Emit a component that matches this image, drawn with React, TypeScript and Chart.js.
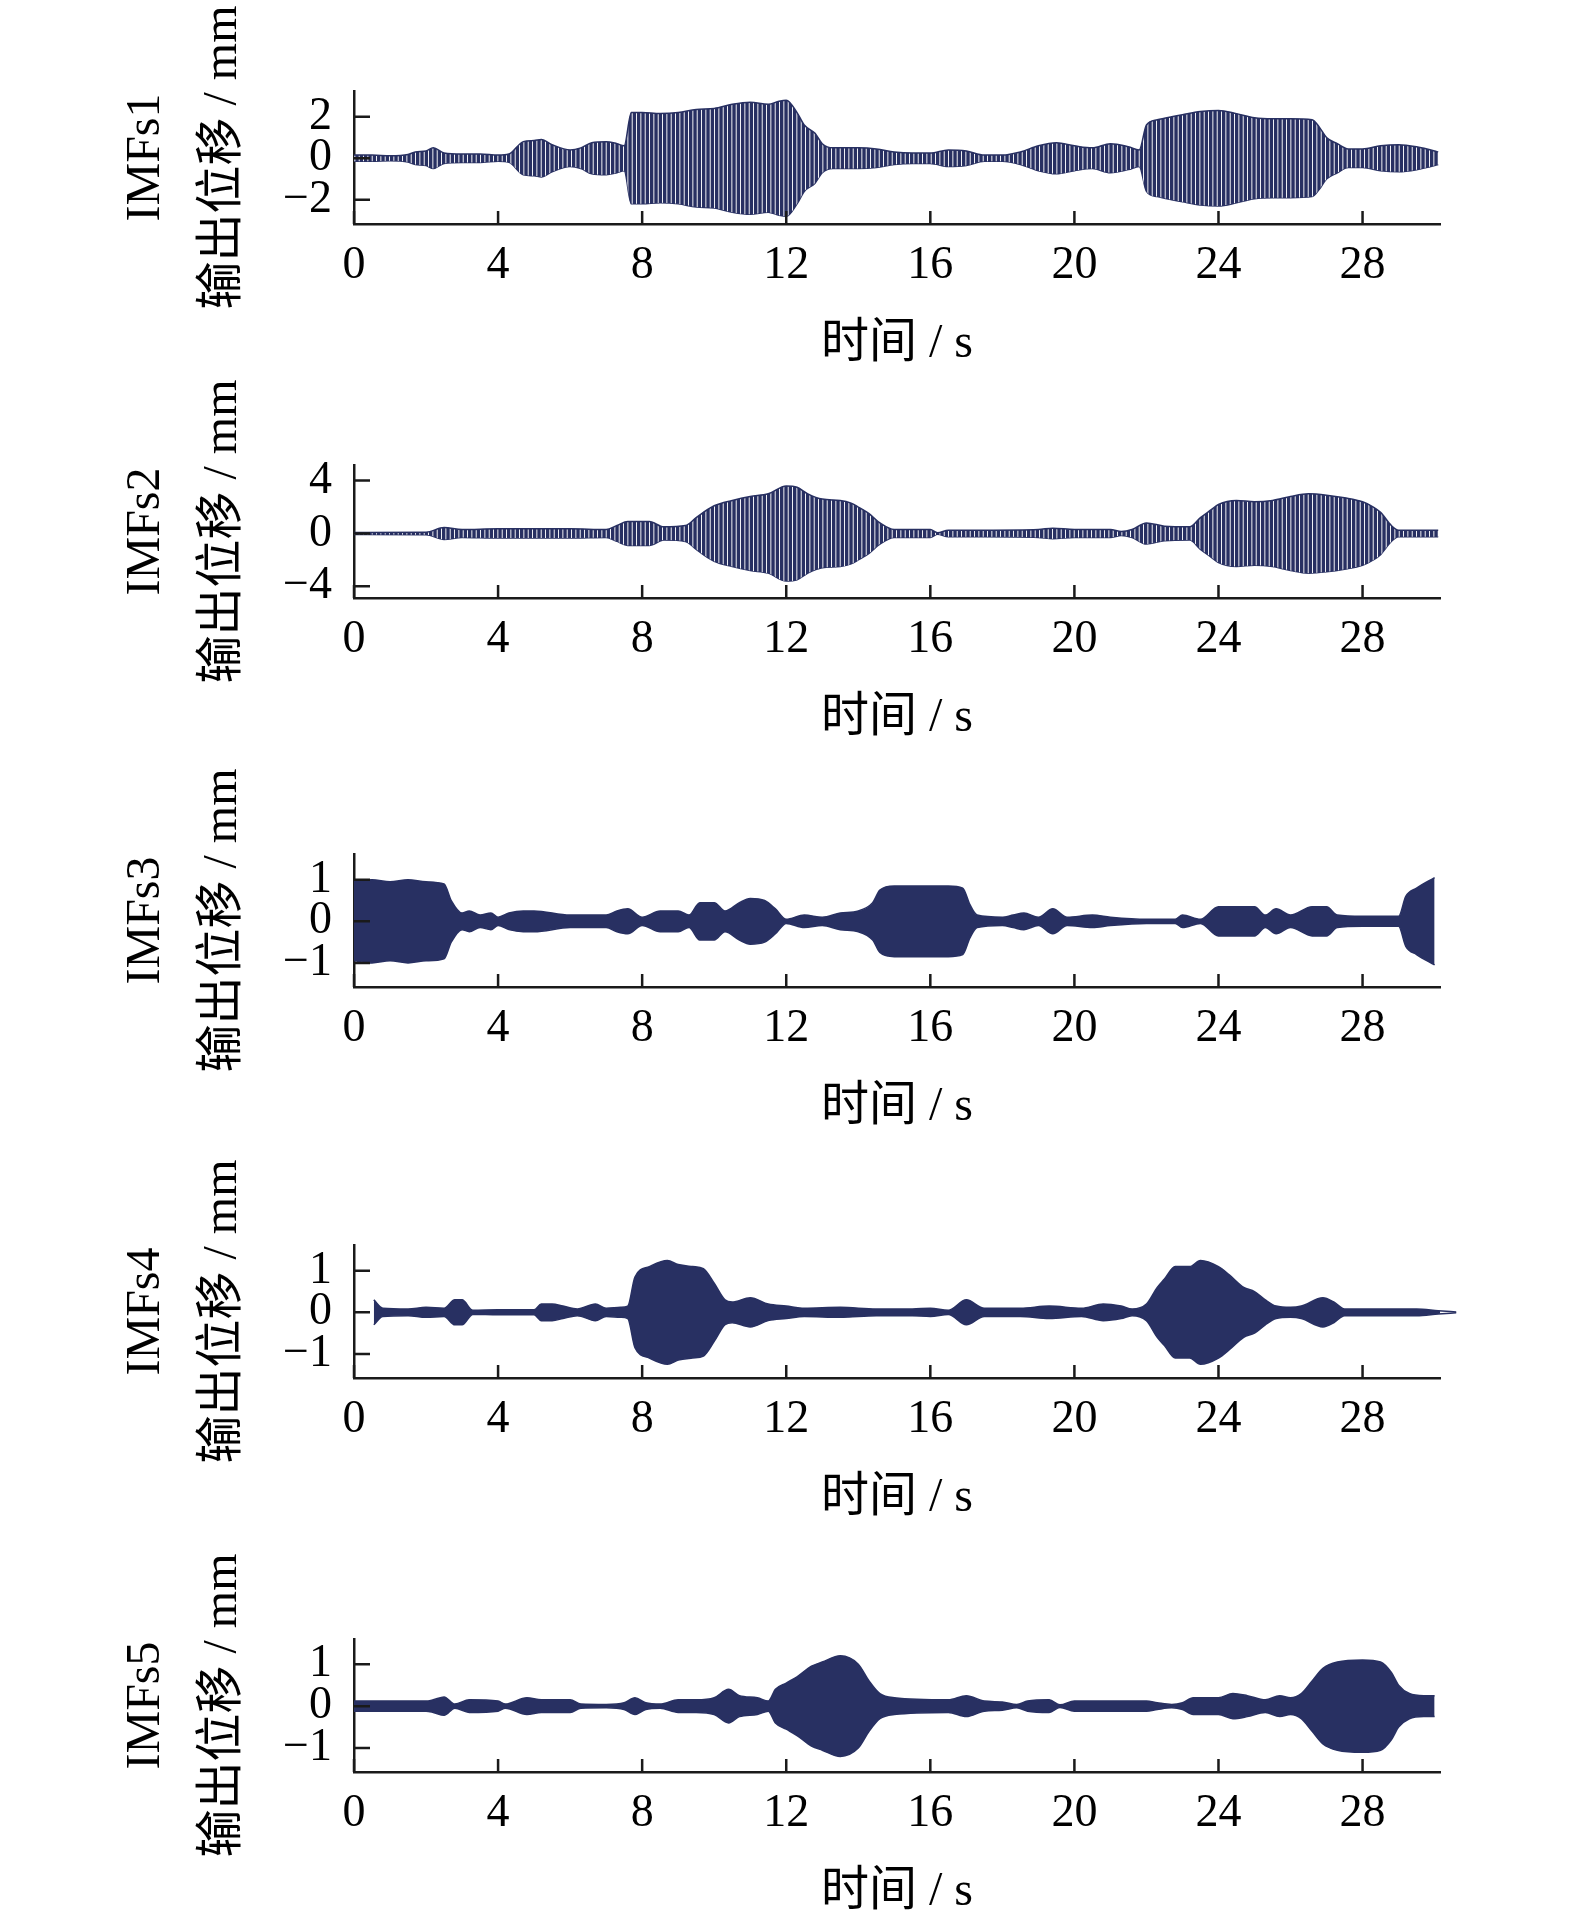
import React, { useEffect, useRef } from "react";
import { Chart, registerables } from "chart.js";

Chart.register(...registerables);

// time axis ticks (s)
const X_TICKS = [0, 4, 8, 12, 16, 20, 24, 28];

// envelope of each IMF: time (s) and half-amplitude (mm)
const imf1Time = [0, 0.5, 1.0, 1.5, 1.7, 2.0, 2.2, 2.5, 3.0, 3.5, 4.0, 4.3, 4.7, 5.0, 5.2, 5.5, 6.0, 6.3, 6.6, 7.0, 7.3, 7.5, 7.7, 8.0, 8.5, 9.0, 9.5, 10.0, 10.5, 11.0, 11.5, 11.8, 12.0, 12.3, 12.5, 12.8, 13.0, 13.3, 14.0, 14.5, 15.0, 15.5, 16.0, 16.5, 17.0, 17.5, 18.0, 18.5, 19.0, 19.5, 20.0, 20.5, 21.0, 21.5, 21.8, 22.0, 22.3, 22.7, 23.0, 23.5, 24.0, 24.5, 25.0, 25.5, 26.0, 26.6, 26.8, 27.0, 27.3, 27.6, 28.0, 28.5, 29.0, 29.5, 30.0, 30.1];
const imf1Amp = [0.15, 0.15, 0.12, 0.18, 0.3, 0.35, 0.5, 0.25, 0.2, 0.2, 0.15, 0.2, 0.8, 0.85, 0.9, 0.65, 0.4, 0.5, 0.75, 0.8, 0.7, 0.6, 2.2, 2.2, 2.15, 2.2, 2.35, 2.4, 2.6, 2.7, 2.6, 2.75, 2.8, 2.2, 1.6, 1.2, 0.7, 0.5, 0.5, 0.45, 0.3, 0.25, 0.25, 0.4, 0.35, 0.15, 0.15, 0.3, 0.6, 0.75, 0.6, 0.5, 0.7, 0.55, 0.4, 1.6, 1.85, 2.0, 2.1, 2.25, 2.3, 2.15, 1.95, 1.9, 1.9, 1.85, 1.5, 1.0, 0.7, 0.45, 0.45, 0.6, 0.65, 0.55, 0.35, 0.3];

const imf2Time = [0, 2.0, 2.5, 3.0, 4.0, 5.0, 6.0, 7.0, 7.3, 7.6, 8.2, 8.6, 9.2, 9.5, 9.7, 10.0, 10.5, 11.0, 11.5, 12.0, 12.3, 12.6, 13.0, 13.5, 13.8, 14.0, 14.3, 14.6, 15.0, 16.0, 16.2, 16.5, 17.5, 19.0, 19.4, 20.0, 21.0, 21.3, 21.6, 22.0, 22.5, 23.2, 23.5, 23.8, 24.0, 24.5, 25.0, 25.5, 26.0, 26.5, 27.0, 27.5, 28.0, 28.3, 28.5, 28.8, 29.0, 30.1];
const imf2Amp = [0.08, 0.1, 0.45, 0.3, 0.35, 0.35, 0.35, 0.3, 0.6, 0.9, 0.9, 0.5, 0.6, 1.2, 1.6, 2.1, 2.5, 2.8, 3.0, 3.6, 3.5, 3.0, 2.6, 2.5, 2.3, 2.0, 1.5, 0.8, 0.3, 0.3, 0.06, 0.25, 0.25, 0.3, 0.4, 0.3, 0.3, 0.15, 0.3, 0.8, 0.55, 0.5, 1.2, 1.8, 2.2, 2.5, 2.4, 2.5, 2.8, 3.0, 2.9, 2.7, 2.4, 2.0, 1.6, 0.6, 0.25, 0.25];

const imf3Time = [0, 0.5, 1.0, 1.5, 2.0, 2.5, 2.7, 3.0, 3.2, 3.5, 3.8, 4.0, 4.3, 4.7, 5.0, 6.0, 7.0, 7.3, 7.6, 8.0, 8.5, 9.0, 9.3, 9.6, 10.0, 10.3, 10.7, 11.0, 11.4, 11.7, 12.0, 12.5, 13.0, 13.5, 14.0, 14.4, 14.6, 15.0, 16.0, 16.5, 16.9, 17.1, 17.3, 18.0, 18.3, 18.6, 19.0, 19.4, 19.8, 20.5, 21.0, 22.0, 22.8, 23.0, 23.5, 24.0, 25.0, 25.3, 25.6, 26.0, 26.6, 27.0, 27.3, 28.0, 29.0, 29.2, 29.5, 30.0];
const imf3Amp = [0.95, 1.0, 0.95, 1.0, 0.95, 0.9, 0.5, 0.2, 0.25, 0.15, 0.2, 0.1, 0.2, 0.25, 0.25, 0.15, 0.15, 0.25, 0.3, 0.1, 0.25, 0.25, 0.15, 0.45, 0.45, 0.25, 0.45, 0.55, 0.5, 0.3, 0.05, 0.15, 0.1, 0.2, 0.25, 0.45, 0.75, 0.85, 0.85, 0.85, 0.8, 0.4, 0.15, 0.1, 0.15, 0.2, 0.1, 0.3, 0.1, 0.15, 0.1, 0.05, 0.05, 0.15, 0.05, 0.35, 0.35, 0.15, 0.3, 0.15, 0.35, 0.35, 0.15, 0.12, 0.12, 0.6, 0.8, 1.05];

const imf4Time = [0.55, 0.8, 1.5, 2.0, 2.5, 2.8, 3.0, 3.3, 4.0, 5.0, 5.2, 5.5, 5.8, 6.2, 6.7, 7.0, 7.4, 7.6, 7.8, 8.2, 8.7, 9.0, 9.4, 9.7, 10.0, 10.3, 10.5, 11.0, 11.5, 12.0, 12.5, 13.5, 14.5, 15.5, 16.0, 16.5, 17.0, 17.5, 18.5, 19.3, 20.2, 20.8, 21.3, 21.6, 22.0, 22.3, 22.5, 22.8, 23.2, 23.5, 24.0, 24.3, 24.7, 25.0, 25.3, 25.6, 26.0, 26.3, 26.9, 27.2, 27.5, 28.5, 29.5, 30.1, 30.6];
const imf4Amp = [0.3, 0.1, 0.08, 0.12, 0.1, 0.3, 0.3, 0.05, 0.06, 0.06, 0.2, 0.2, 0.15, 0.08, 0.2, 0.1, 0.12, 0.15, 0.85, 1.1, 1.25, 1.15, 1.1, 1.05, 0.7, 0.3, 0.25, 0.35, 0.2, 0.15, 0.1, 0.12, 0.08, 0.08, 0.1, 0.05, 0.3, 0.1, 0.1, 0.15, 0.1, 0.2, 0.15, 0.08, 0.2, 0.6, 0.8, 1.1, 1.1, 1.25, 1.1, 0.9, 0.6, 0.5, 0.3, 0.15, 0.12, 0.15, 0.35, 0.25, 0.08, 0.08, 0.08, 0.04, 0.01];

const imf5Time = [0, 2.0, 2.2, 2.5, 2.8, 3.2, 4.0, 4.2, 4.8, 5.2, 6.0, 6.3, 7.0, 7.5, 7.8, 8.1, 8.5, 9.0, 9.5, 10.0, 10.4, 10.7, 11.2, 11.5, 11.7, 12.0, 12.3, 12.7, 13.0, 13.5, 14.0, 14.3, 14.6, 15.0, 16.5, 17.0, 17.5, 18.0, 18.4, 18.7, 19.3, 19.6, 20.0, 22.0, 22.3, 22.7, 23.0, 23.3, 24.0, 24.4, 24.8, 25.3, 25.7, 26.0, 26.3, 26.6, 26.9, 27.3, 28.0, 28.5, 28.8, 29.0, 29.3, 29.7, 30.0];
const imf5Amp = [0.12, 0.12, 0.15, 0.22, 0.05, 0.15, 0.12, 0.05, 0.2, 0.15, 0.15, 0.05, 0.04, 0.08, 0.2, 0.08, 0.05, 0.15, 0.15, 0.2, 0.4, 0.25, 0.2, 0.12, 0.4, 0.55, 0.7, 0.95, 1.05, 1.2, 1.0, 0.6, 0.3, 0.2, 0.15, 0.25, 0.12, 0.1, 0.04, 0.12, 0.15, 0.03, 0.12, 0.12, 0.08, 0.04, 0.08, 0.2, 0.2, 0.3, 0.25, 0.15, 0.25, 0.2, 0.3, 0.6, 0.9, 1.05, 1.1, 1.05, 0.8, 0.5, 0.3, 0.25, 0.25];

// y tick labels
const imf1Ticks = [-2, 0, 2];
const imf2Ticks = [-4, 0, 4];
const imfSmallTicks = [-1, 0, 1];

const NAVY = "#283062";
const AXIS = "#1a1a1a";
const FONT = '"Liberation Serif", "Times New Roman", "Noto Sans CJK SC", serif';

const CANVAS_W = 1575;
const CANVAS_H = 420;
const PAD_TOP = 91;
const AREA_H = 133;

const panels = [
  { name: "IMFs1", time: imf1Time, amp: imf1Amp, ticks: imf1Ticks, yMin: -3.17, yMax: 3.24, top: 91, striped: true },
  { name: "IMFs2", time: imf2Time, amp: imf2Amp, ticks: imf2Ticks, yMin: -4.88, yMax: 5.18, top: 465, striped: true },
  { name: "IMFs3", time: imf3Time, amp: imf3Amp, ticks: imfSmallTicks, yMin: -1.58, yMax: 1.62, top: 854, striped: false },
  { name: "IMFs4", time: imf4Time, amp: imf4Amp, ticks: imfSmallTicks, yMin: -1.58, yMax: 1.62, top: 1245, striped: false },
  { name: "IMFs5", time: imf5Time, amp: imf5Amp, ticks: imfSmallTicks, yMin: -1.57, yMax: 1.6, top: 1639, striped: false },
];

// inward tick marks, like the MATLAB original
const innerTicks = {
  id: "innerTicks",
  afterDraw(chart: any) {
    const { ctx, chartArea, scales } = chart;
    ctx.save();
    ctx.strokeStyle = AXIS;
    ctx.lineWidth = 2.5;
    ctx.beginPath();
    scales.x.ticks.forEach((t: any) => {
      const px = scales.x.getPixelForValue(t.value);
      ctx.moveTo(px, chartArea.bottom);
      ctx.lineTo(px, chartArea.bottom - 13);
    });
    scales.y.ticks.forEach((t: any) => {
      const py = scales.y.getPixelForValue(t.value);
      ctx.moveTo(chartArea.left, py);
      ctx.lineTo(chartArea.left + 16, py);
    });
    ctx.stroke();
    ctx.restore();
  },
};

function makeStripes(ctx: CanvasRenderingContext2D) {
  const c = document.createElement("canvas");
  c.width = 13;
  c.height = 4;
  const g = c.getContext("2d")!;
  g.fillStyle = "#ffffff";
  g.fillRect(0, 0, 13, 4);
  g.fillStyle = NAVY;
  [0, 4.33, 8.67].forEach((x) => g.fillRect(x, 0, 3.4, 4));
  return ctx.createPattern(c, "repeat") || NAVY;
}

function Panel({ p }: { p: (typeof panels)[number] }) {
  const ref = useRef<HTMLCanvasElement>(null);

  useEffect(() => {
    const canvas = ref.current;
    if (!canvas) return;
    const ctx = canvas.getContext("2d");
    if (!ctx) return;

    const upper = p.time.map((t, i) => ({ x: t, y: p.amp[i] }));
    const lower = p.time.map((t, i) => ({ x: t, y: -p.amp[i] }));
    const fillStyle = p.striped ? makeStripes(ctx) : NAVY;

    const chart = new Chart(ctx, {
      type: "line",
      data: {
        datasets: [
          {
            data: upper,
            borderColor: NAVY,
            borderWidth: 1.5,
            pointRadius: 0,
            cubicInterpolationMode: "monotone",
            fill: "+1",
            backgroundColor: fillStyle,
            clip: false,
          },
          {
            data: lower,
            borderColor: NAVY,
            borderWidth: 1.5,
            pointRadius: 0,
            cubicInterpolationMode: "monotone",
            fill: false,
            clip: false,
          },
        ],
      },
      options: {
        responsive: false,
        animation: false,
        events: [],
        layout: { padding: { top: PAD_TOP, left: 0, right: CANVAS_W - 1440, bottom: 0 } },
        plugins: {
          legend: { display: false },
          tooltip: { enabled: false },
        },
        scales: {
          x: {
            type: "linear",
            min: 0,
            max: 30.15,
            afterBuildTicks: (s: any) => {
              s.ticks = X_TICKS.map((v) => ({ value: v }));
            },
            afterFit: (s: any) => {
              s.height = CANVAS_H - PAD_TOP - AREA_H;
            },
            grid: { display: false },
            border: { display: true, width: 2.5, color: AXIS },
            ticks: {
              autoSkip: false,
              maxRotation: 0,
              padding: 6,
              color: "#000",
              font: { family: FONT, size: 46 },
              callback: (v: any) => String(v),
            },
            title: {
              display: true,
              text: "时间 / s",
              color: "#000",
              font: { family: FONT, size: 48 },
              padding: { top: 0, bottom: 47 },
            },
          },
          y: {
            min: p.yMin,
            max: p.yMax,
            afterBuildTicks: (s: any) => {
              s.ticks = p.ticks.map((v) => ({ value: v }));
            },
            afterFit: (s: any) => {
              s.width = 354;
            },
            grid: { display: false },
            border: { display: true, width: 2.5, color: AXIS },
            ticks: {
              padding: 14,
              color: "#000",
              font: { family: FONT, size: 46 },
              callback: (v: any) => (v < 0 ? "\u2212" + Math.abs(v) : String(v)),
            },
            title: {
              display: true,
              text: [p.name, "输出位移 / mm"],
              color: "#000",
              font: { family: FONT, size: 48, lineHeight: "77px" },
              padding: { top: 108, bottom: 0 },
            },
          },
        },
      },
      plugins: [innerTicks],
    } as any);

    return () => chart.destroy();
  }, [p]);

  return (
    <canvas
      ref={ref}
      width={CANVAS_W}
      height={CANVAS_H}
      style={{
        position: "absolute",
        left: 0,
        top: p.top - PAD_TOP,
        width: CANVAS_W,
        height: CANVAS_H,
      }}
    />
  );
}

export default function App() {
  return (
    <div
      style={{
        position: "relative",
        width: CANVAS_W,
        height: 1922,
        overflow: "hidden",
        background: "#fff",
      }}
    >
      <style>{"body{margin:0}"}</style>
      {panels.map((p) => (
        <Panel key={p.name} p={p} />
      ))}
    </div>
  );
}
